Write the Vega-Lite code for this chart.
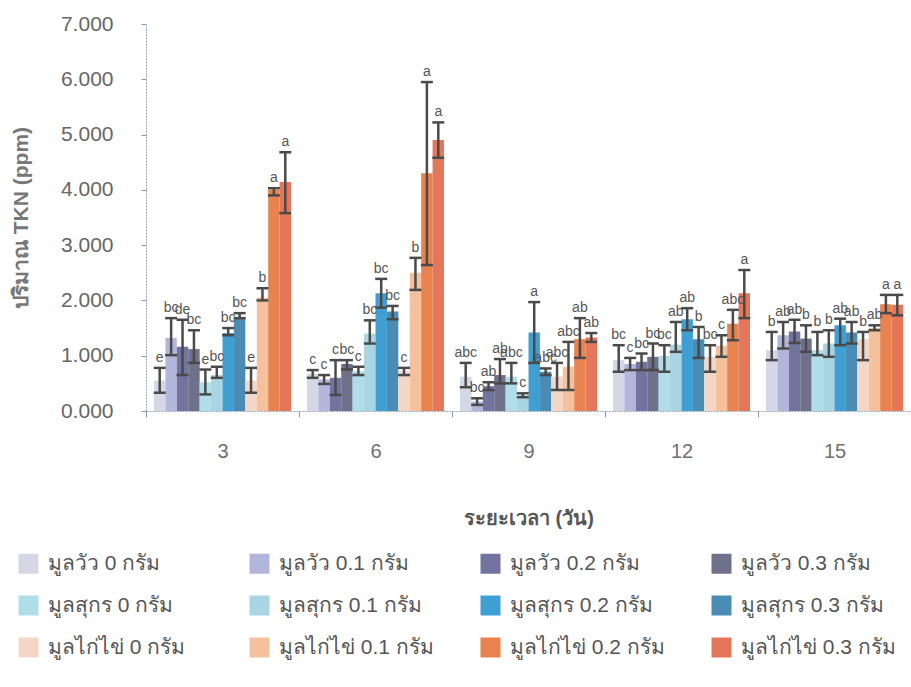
{
  "$schema": "https://vega.github.io/schema/vega-lite/v6.json",
  "width": 765,
  "height": 387,
  "autosize": {"type": "none"},
  "padding": {"left": 146, "top": 24, "right": 0, "bottom": 276},
  "background": "white",
  "config": {
    "view": {"stroke": null},
    "font": "Liberation Sans",
    "axis": {"grid": false, "labelFont": "Liberation Sans", "titleFont": "Liberation Sans"}
  },
  "data": {"values": [
    {"day": "3", "treat": "มูลวัว 0 กรัม", "v": 0.55, "lo": 0.33, "hi": 0.78, "lab": "e"},
    {"day": "3", "treat": "มูลวัว 0.1 กรัม", "v": 1.32, "lo": 1.01, "hi": 1.68, "lab": "bc"},
    {"day": "3", "treat": "มูลวัว 0.2 กรัม", "v": 1.16, "lo": 0.65, "hi": 1.65, "lab": "de"},
    {"day": "3", "treat": "มูลวัว 0.3 กรัม", "v": 1.12, "lo": 0.87, "hi": 1.46, "lab": "bc"},
    {"day": "3", "treat": "มูลสุกร 0 กรัม", "v": 0.52, "lo": 0.30, "hi": 0.75, "lab": "e"},
    {"day": "3", "treat": "มูลสุกร 0.1 กรัม", "v": 0.65, "lo": 0.60, "hi": 0.80, "lab": "bc"},
    {"day": "3", "treat": "มูลสุกร  0.2 กรัม", "v": 1.41, "lo": 1.37, "hi": 1.50, "lab": "bc"},
    {"day": "3", "treat": "มูลสุกร 0.3 กรัม", "v": 1.70, "lo": 1.68, "hi": 1.77, "lab": "bc"},
    {"day": "3", "treat": "มูลไก่ไข่ 0 กรัม", "v": 0.55, "lo": 0.33, "hi": 0.78, "lab": "e"},
    {"day": "3", "treat": "มูลไก่ไข่ 0.1 กรัม", "v": 2.05, "lo": 2.00, "hi": 2.22, "lab": "b"},
    {"day": "3", "treat": "มูลไก่ไข่  0.2 กรัม", "v": 4.00, "lo": 3.90, "hi": 4.03, "lab": "a"},
    {"day": "3", "treat": "มูลไก่ไข่  0.3 กรัม", "v": 4.14, "lo": 3.58, "hi": 4.68, "lab": "a"},

    {"day": "6", "treat": "มูลวัว 0 กรัม", "v": 0.67, "lo": 0.60, "hi": 0.74, "lab": "c"},
    {"day": "6", "treat": "มูลวัว 0.1 กรัม", "v": 0.57, "lo": 0.49, "hi": 0.65, "lab": "c"},
    {"day": "6", "treat": "มูลวัว 0.2 กรัม", "v": 0.60, "lo": 0.29, "hi": 0.92, "lab": "c"},
    {"day": "6", "treat": "มูลวัว 0.3 กรัม", "v": 0.85, "lo": 0.75, "hi": 0.92, "lab": "bc"},
    {"day": "6", "treat": "มูลสุกร 0 กรัม", "v": 0.72, "lo": 0.65, "hi": 0.80, "lab": "c"},
    {"day": "6", "treat": "มูลสุกร 0.1 กรัม", "v": 1.40, "lo": 1.22, "hi": 1.64, "lab": "bc"},
    {"day": "6", "treat": "มูลสุกร  0.2 กรัม", "v": 2.13, "lo": 1.87, "hi": 2.39, "lab": "bc"},
    {"day": "6", "treat": "มูลสุกร 0.3 กรัม", "v": 1.80, "lo": 1.66, "hi": 1.90, "lab": "bc"},
    {"day": "6", "treat": "มูลไก่ไข่ 0 กรัม", "v": 0.72, "lo": 0.65, "hi": 0.78, "lab": "c"},
    {"day": "6", "treat": "มูลไก่ไข่ 0.1 กรัม", "v": 2.50, "lo": 2.19, "hi": 2.77, "lab": "b"},
    {"day": "6", "treat": "มูลไก่ไข่  0.2 กรัม", "v": 4.30, "lo": 2.64, "hi": 5.95, "lab": "a"},
    {"day": "6", "treat": "มูลไก่ไข่  0.3 กรัม", "v": 4.90, "lo": 4.58, "hi": 5.22, "lab": "a"},

    {"day": "9", "treat": "มูลวัว 0 กรัม", "v": 0.62, "lo": 0.43, "hi": 0.87, "lab": "abc"},
    {"day": "9", "treat": "มูลวัว 0.1 กรัม", "v": 0.17, "lo": 0.11, "hi": 0.23, "lab": "bc"},
    {"day": "9", "treat": "มูลวัว 0.2 กรัม", "v": 0.45, "lo": 0.38, "hi": 0.52, "lab": "ab"},
    {"day": "9", "treat": "มูลวัว 0.3 กรัม", "v": 0.65, "lo": 0.50, "hi": 0.94, "lab": "ab"},
    {"day": "9", "treat": "มูลสุกร 0 กรัม", "v": 0.62, "lo": 0.50, "hi": 0.87, "lab": "abc"},
    {"day": "9", "treat": "มูลสุกร 0.1 กรัม", "v": 0.28, "lo": 0.25, "hi": 0.32, "lab": "c"},
    {"day": "9", "treat": "มูลสุกร  0.2 กรัม", "v": 1.42, "lo": 0.87, "hi": 1.97, "lab": "a"},
    {"day": "9", "treat": "มูลสุกร 0.3 กรัม", "v": 0.71, "lo": 0.65, "hi": 0.77, "lab": "abc"},
    {"day": "9", "treat": "มูลไก่ไข่ 0 กรัม", "v": 0.62, "lo": 0.38, "hi": 0.87, "lab": "abc"},
    {"day": "9", "treat": "มูลไก่ไข่ 0.1 กรัม", "v": 0.80, "lo": 0.38, "hi": 1.25, "lab": "abc"},
    {"day": "9", "treat": "มูลไก่ไข่  0.2 กรัม", "v": 1.30, "lo": 0.96, "hi": 1.68, "lab": "ab"},
    {"day": "9", "treat": "มูลไก่ไข่  0.3 กรัม", "v": 1.33, "lo": 1.25, "hi": 1.41, "lab": "ab"},

    {"day": "12", "treat": "มูลวัว 0 กรัม", "v": 0.92, "lo": 0.71, "hi": 1.19, "lab": "bc"},
    {"day": "12", "treat": "มูลวัว 0.1 กรัม", "v": 0.85, "lo": 0.74, "hi": 0.96, "lab": "c"},
    {"day": "12", "treat": "มูลวัว 0.2 กรัม", "v": 0.89, "lo": 0.74, "hi": 1.04, "lab": "bc"},
    {"day": "12", "treat": "มูลวัว 0.3 กรัม", "v": 0.98, "lo": 0.74, "hi": 1.22, "lab": "bc"},
    {"day": "12", "treat": "มูลสุกร 0 กรัม", "v": 1.00, "lo": 0.71, "hi": 1.19, "lab": "bc"},
    {"day": "12", "treat": "มูลสุกร 0.1 กรัม", "v": 1.20, "lo": 1.07, "hi": 1.61, "lab": "ab"},
    {"day": "12", "treat": "มูลสุกร  0.2 กรัม", "v": 1.66, "lo": 1.46, "hi": 1.86, "lab": "ab"},
    {"day": "12", "treat": "มูลสุกร 0.3 กรัม", "v": 1.30, "lo": 0.96, "hi": 1.52, "lab": "b"},
    {"day": "12", "treat": "มูลไก่ไข่ 0 กรัม", "v": 0.98, "lo": 0.71, "hi": 1.19, "lab": "bc"},
    {"day": "12", "treat": "มูลไก่ไข่ 0.1 กรัม", "v": 1.18, "lo": 0.98, "hi": 1.37, "lab": "c"},
    {"day": "12", "treat": "มูลไก่ไข่  0.2 กรัม", "v": 1.58, "lo": 1.28, "hi": 1.83, "lab": "abc"},
    {"day": "12", "treat": "มูลไก่ไข่  0.3 กรัม", "v": 2.13, "lo": 1.68, "hi": 2.55, "lab": "a"},

    {"day": "15", "treat": "มูลวัว 0 กรัม", "v": 1.10, "lo": 0.92, "hi": 1.43, "lab": "b"},
    {"day": "15", "treat": "มูลวัว 0.1 กรัม", "v": 1.37, "lo": 1.13, "hi": 1.61, "lab": "ab"},
    {"day": "15", "treat": "มูลวัว 0.2 กรัม", "v": 1.44, "lo": 1.23, "hi": 1.65, "lab": "ab"},
    {"day": "15", "treat": "มูลวัว 0.3 กรัม", "v": 1.31, "lo": 1.07, "hi": 1.55, "lab": "b"},
    {"day": "15", "treat": "มูลสุกร 0 กรัม", "v": 1.10, "lo": 1.01, "hi": 1.43, "lab": "b"},
    {"day": "15", "treat": "มูลสุกร 0.1 กรัม", "v": 1.22, "lo": 0.98, "hi": 1.46, "lab": "b"},
    {"day": "15", "treat": "มูลสุกร  0.2 กรัม", "v": 1.55, "lo": 1.19, "hi": 1.67, "lab": "ab"},
    {"day": "15", "treat": "มูลสุกร 0.3 กรัม", "v": 1.42, "lo": 1.22, "hi": 1.61, "lab": "ab"},
    {"day": "15", "treat": "มูลไก่ไข่ 0 กรัม", "v": 1.30, "lo": 0.92, "hi": 1.43, "lab": "b"},
    {"day": "15", "treat": "มูลไก่ไข่ 0.1 กรัม", "v": 1.50, "lo": 1.46, "hi": 1.55, "lab": "ab"},
    {"day": "15", "treat": "มูลไก่ไข่  0.2 กรัม", "v": 1.93, "lo": 1.77, "hi": 2.10, "lab": "a"},
    {"day": "15", "treat": "มูลไก่ไข่  0.3 กรัม", "v": 1.92, "lo": 1.73, "hi": 2.10, "lab": "a"}
  ]},
  "encoding": {
    "x": {
      "field": "day", "type": "ordinal", "sort": ["3", "6", "9", "12", "15"],
      "scale": {"paddingInner": 0, "paddingOuter": 0},
      "axis": {
        "title": "ระยะเวลา (วัน)", "labelAngle": 0, "labelFontSize": 20, "labelColor": "#707070",
        "labelPadding": 24, "tickBand": "extent", "tickSize": 6, "tickColor": "#8a98a8",
        "domainColor": "#9aa6b4", "domainDash": [2, 1], "titleFontSize": 20, "titleFontWeight": "bold",
        "titleColor": "#555555", "titlePadding": 47
      }
    },
    "xOffset": {
      "field": "treat", "type": "nominal",
      "scale": {
        "domain": ["มูลวัว 0 กรัม", "มูลวัว 0.1 กรัม", "มูลวัว 0.2 กรัม", "มูลวัว 0.3 กรัม", "มูลสุกร 0 กรัม", "มูลสุกร 0.1 กรัม", "มูลสุกร  0.2 กรัม", "มูลสุกร 0.3 กรัม", "มูลไก่ไข่ 0 กรัม", "มูลไก่ไข่ 0.1 กรัม", "มูลไก่ไข่  0.2 กรัม", "มูลไก่ไข่  0.3 กรัม"],
        "paddingInner": 0, "paddingOuter": 0.7
      }
    }
  },
  "layer": [
    {
      "mark": {"type": "bar"},
      "encoding": {
        "y": {
          "field": "v", "type": "quantitative", "title": "ปริมาณ TKN (ppm)",
          "scale": {"domain": [0, 7]},
          "axis": {
            "values": [0, 1, 2, 3, 4, 5, 6, 7], "format": ".3f", "labelFontSize": 21, "labelColor": "#666666",
            "labelPadding": 28, "tickSize": 5, "tickColor": "#8a98a8", "domainColor": "#9aa6b4", "domainDash": [2, 1],
            "titleFontSize": 21, "titleFontWeight": "bold", "titleColor": "#777777", "titlePadding": 29
          }
        },
        "color": {
          "field": "treat", "type": "nominal",
          "scale": {
            "domain": ["มูลวัว 0 กรัม", "มูลวัว 0.1 กรัม", "มูลวัว 0.2 กรัม", "มูลวัว 0.3 กรัม", "มูลสุกร 0 กรัม", "มูลสุกร 0.1 กรัม", "มูลสุกร  0.2 กรัม", "มูลสุกร 0.3 กรัม", "มูลไก่ไข่ 0 กรัม", "มูลไก่ไข่ 0.1 กรัม", "มูลไก่ไข่  0.2 กรัม", "มูลไก่ไข่  0.3 กรัม"],
            "range": ["#d6d7e6", "#b4b5da", "#72739f", "#6e7189", "#afdeea", "#a9d4e2", "#3f9fd2", "#4a8cb4", "#f4d6c6", "#f5c09c", "#e8824f", "#e4775a"]
          },
          "legend": {
            "title": null, "orient": "none", "legendX": -128, "legendY": 529, "direction": "horizontal",
            "columns": 4, "gridAlign": "all", "columnPadding": 40, "rowPadding": 20,
            "symbolType": "square", "symbolSize": 400, "symbolStrokeWidth": 0, "symbolOpacity": 1,
            "labelFontSize": 21, "labelColor": "#555555", "labelOffset": 9, "labelLimit": 300
          }
        }
      }
    },
    {
      "mark": {"type": "rule", "color": "#4a4a4a", "strokeWidth": 2.5},
      "encoding": {
        "y": {"field": "lo", "type": "quantitative", "title": "ปริมาณ TKN (ppm)"},
        "y2": {"field": "hi"}
      }
    },
    {
      "mark": {"type": "tick", "orient": "horizontal", "color": "#4a4a4a", "thickness": 2.5, "size": 12, "opacity": 1},
      "encoding": {"y": {"field": "lo", "type": "quantitative", "title": "ปริมาณ TKN (ppm)"}}
    },
    {
      "mark": {"type": "tick", "orient": "horizontal", "color": "#4a4a4a", "thickness": 2.5, "size": 12, "opacity": 1},
      "encoding": {"y": {"field": "hi", "type": "quantitative", "title": "ปริมาณ TKN (ppm)"}}
    },
    {
      "mark": {"type": "text", "fontSize": 14, "color": "#555555", "baseline": "bottom", "dy": -3},
      "encoding": {
        "y": {"field": "hi", "type": "quantitative", "title": "ปริมาณ TKN (ppm)"},
        "text": {"field": "lab"}
      }
    }
  ]
}
